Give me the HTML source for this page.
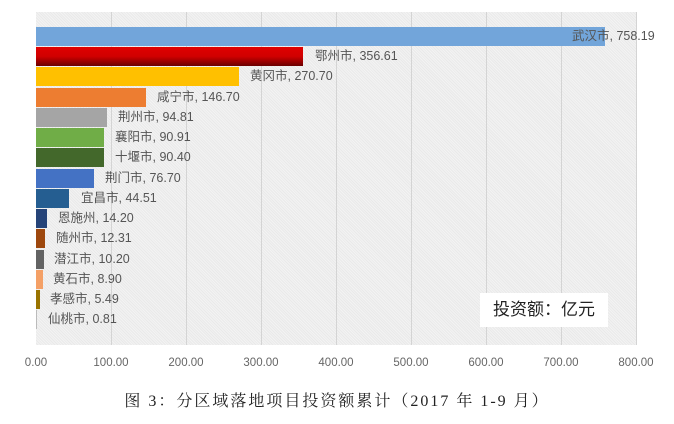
<!DOCTYPE html>
<html><head><meta charset="utf-8"><style>
body{margin:0;width:674px;height:424px;background:#fff;position:relative;overflow:hidden;font-family:"Liberation Sans","Noto Sans CJK SC",sans-serif}
.plot{position:absolute;left:36px;top:12px;width:600px;height:333px;background:repeating-linear-gradient(45deg,#f3f3f3 0 1px,#e9e9e9 1px 2px)}
.g{position:absolute;top:12px;height:333px;width:1px;background:#d4d4d4}
.b{position:absolute;left:36px;height:19px}
.l{position:absolute;font-size:12.5px;color:#555;white-space:nowrap;line-height:19px}
.t{position:absolute;top:357px;font-size:11.5px;color:#666;width:60px;text-align:center;margin-left:-30px}
</style></head><body>
<div class="plot"></div>
<div class="g" style="left:111px"></div><div class="g" style="left:186px"></div><div class="g" style="left:261px"></div><div class="g" style="left:336px"></div><div class="g" style="left:411px"></div><div class="g" style="left:486px"></div><div class="g" style="left:561px"></div><div class="g" style="left:636px"></div>
<div class="b" style="top:27px;width:569px;background:#72a5da"></div><div class="l" style="top:27px;left:572px">武汉市, 758.19</div>
<div class="b" style="top:47px;width:267px;background:linear-gradient(#e00000,#d00000 50%,#6a0000)"></div><div class="l" style="top:47px;left:315px">鄂州市, 356.61</div>
<div class="b" style="top:67px;width:203px;background:#ffc000"></div><div class="l" style="top:67px;left:250px">黄冈市, 270.70</div>
<div class="b" style="top:88px;width:110px;background:#ed7d31"></div><div class="l" style="top:88px;left:157px">咸宁市, 146.70</div>
<div class="b" style="top:108px;width:71px;background:#a5a5a5"></div><div class="l" style="top:108px;left:118px">荆州市, 94.81</div>
<div class="b" style="top:128px;width:68px;background:#70ad47"></div><div class="l" style="top:128px;left:115px">襄阳市, 90.91</div>
<div class="b" style="top:148px;width:68px;background:#43682b"></div><div class="l" style="top:148px;left:115px">十堰市, 90.40</div>
<div class="b" style="top:169px;width:58px;background:#4472c4"></div><div class="l" style="top:169px;left:105px">荆门市, 76.70</div>
<div class="b" style="top:189px;width:33px;background:#255e91"></div><div class="l" style="top:189px;left:81px">宜昌市, 44.51</div>
<div class="b" style="top:209px;width:11px;background:#264478"></div><div class="l" style="top:209px;left:58px">恩施州, 14.20</div>
<div class="b" style="top:229px;width:9px;background:#9e480e"></div><div class="l" style="top:229px;left:56px">随州市, 12.31</div>
<div class="b" style="top:250px;width:8px;background:#636363"></div><div class="l" style="top:250px;left:54px">潜江市, 10.20</div>
<div class="b" style="top:270px;width:7px;background:#f4a066"></div><div class="l" style="top:270px;left:53px">黄石市, 8.90</div>
<div class="b" style="top:290px;width:4px;background:#997300"></div><div class="l" style="top:290px;left:50px">孝感市, 5.49</div>
<div class="b" style="top:310px;width:1px;background:#bbb"></div><div class="l" style="top:310px;left:48px">仙桃市, 0.81</div>
<div style="position:absolute;left:480px;top:293px;width:128px;height:34px;background:#fff;font-size:17px;color:#222;line-height:34px;text-align:center">投资额：亿元</div>
<div class="t" style="left:36px">0.00</div><div class="t" style="left:111px">100.00</div><div class="t" style="left:186px">200.00</div><div class="t" style="left:261px">300.00</div><div class="t" style="left:336px">400.00</div><div class="t" style="left:411px">500.00</div><div class="t" style="left:486px">600.00</div><div class="t" style="left:561px">700.00</div><div class="t" style="left:636px">800.00</div>
<div style="position:absolute;left:0;width:674px;top:388px;text-align:center;font-family:'Liberation Serif','Noto Serif CJK SC',serif;font-size:16px;color:#222;letter-spacing:2px">图 3：分区域落地项目投资额累计（2017 年 1-9 月）</div>
</body></html>
